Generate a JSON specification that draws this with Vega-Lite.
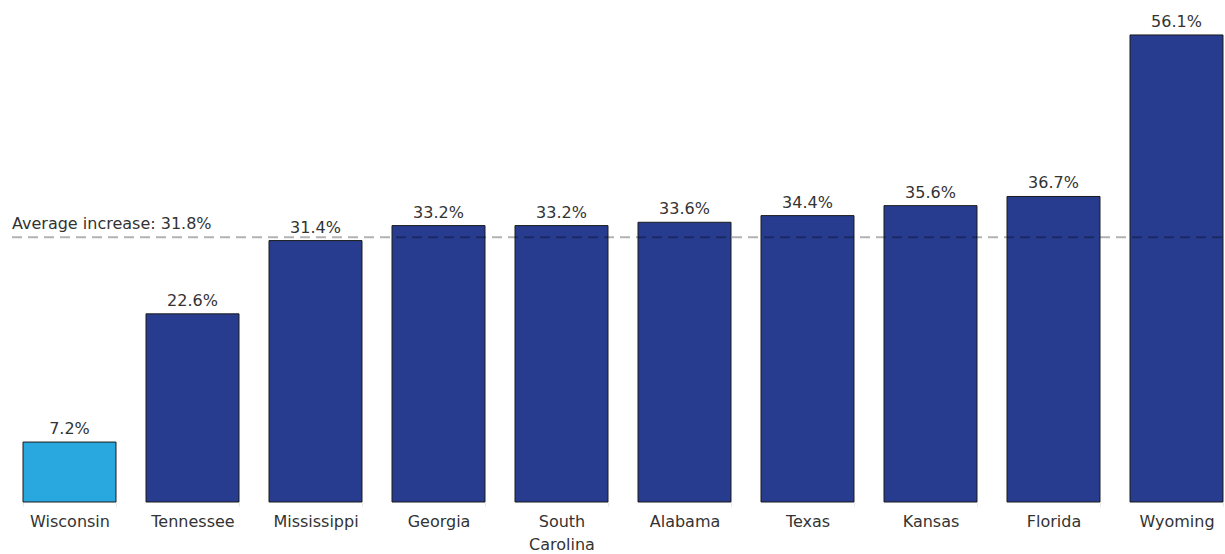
{
  "$schema": "https://vega.github.io/schema/vega-lite/v6.json",
  "autosize": "none",
  "width": 1230,
  "height": 502,
  "padding": {"left": 8, "top": 0, "right": 0, "bottom": 52},
  "background": "white",
  "config": {
    "view": {"stroke": null},
    "font": "DejaVu Sans"
  },
  "data": {
    "values": [
      {"state": "Wisconsin", "increase": 7.2, "highlight": "yes"},
      {"state": "Tennessee", "increase": 22.6, "highlight": "no"},
      {"state": "Mississippi", "increase": 31.4, "highlight": "no"},
      {"state": "Georgia", "increase": 33.2, "highlight": "no"},
      {"state": "South Carolina", "increase": 33.2, "highlight": "no"},
      {"state": "Alabama", "increase": 33.6, "highlight": "no"},
      {"state": "Texas", "increase": 34.4, "highlight": "no"},
      {"state": "Kansas", "increase": 35.6, "highlight": "no"},
      {"state": "Florida", "increase": 36.7, "highlight": "no"},
      {"state": "Wyoming", "increase": 56.1, "highlight": "no"}
    ]
  },
  "encoding": {
    "x": {
      "field": "state",
      "type": "nominal",
      "sort": null,
      "scale": {"paddingInner": 0.244, "paddingOuter": 0.122},
      "axis": {
        "title": null,
        "labelAngle": 0,
        "labelExpr": "datum.value ? split(datum.value, ' ') : ''",
        "labelFontSize": 16,
        "labelColor": "#333333",
        "labelPadding": 7,
        "labelLineHeight": 23,
        "domain": false,
        "ticks": true,
        "tickBand": "extent",
        "tickColor": "#e6e6e6",
        "tickSize": 4
      }
    }
  },
  "layer": [
    {
      "mark": {"type": "bar", "stroke": "#1a1a1a", "strokeWidth": 1},
      "encoding": {
        "y": {
          "field": "increase",
          "type": "quantitative",
          "scale": {"domain": [0, 60.3], "nice": false},
          "axis": null
        },
        "color": {
          "field": "highlight",
          "type": "nominal",
          "scale": {"domain": ["yes", "no"], "range": ["#29a8e0", "#273c8f"]},
          "legend": null
        }
      }
    },
    {
      "mark": {"type": "text", "baseline": "alphabetic", "dy": -8, "fontSize": 16, "color": "#333333"},
      "encoding": {
        "y": {"field": "increase", "type": "quantitative"},
        "text": {"field": "label"}
      },
      "transform": [{"calculate": "format(datum.increase, '.1f') + '%'", "as": "label"}]
    },
    {
      "data": {"values": [{"avg": 31.8}]},
      "mark": {"type": "rule", "color": "#000000", "opacity": 0.3, "strokeWidth": 2, "strokeDash": [10, 6]},
      "encoding": {
        "x": null,
        "y": {"field": "avg", "type": "quantitative"}
      }
    },
    {
      "data": {"values": [{"avg": 31.8, "label": "Average increase: 31.8%", "state": "Wisconsin"}]},
      "mark": {"type": "text", "align": "left", "baseline": "alphabetic", "dy": -8, "dx": -11, "fontSize": 16, "color": "#333333"},
      "encoding": {
        "x": {"field": "state", "type": "nominal", "sort": null, "bandPosition": 0},
        "y": {"field": "avg", "type": "quantitative"},
        "text": {"field": "label"}
      }
    }
  ]
}
